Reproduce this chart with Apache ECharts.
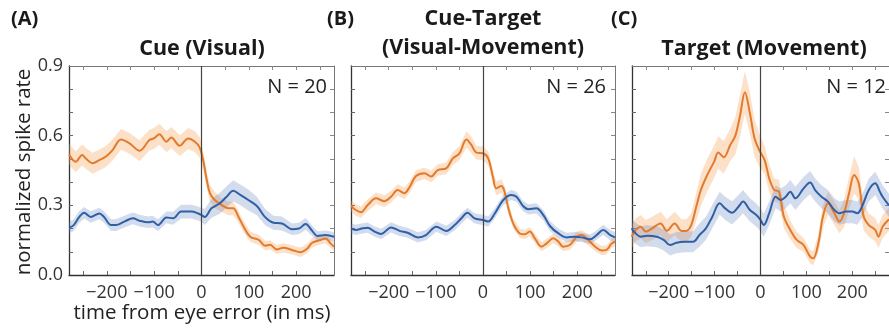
<!DOCTYPE html>
<html><head><meta charset="utf-8">
<script src="https://cdn.jsdelivr.net/npm/echarts@6/dist/echarts.min.js"></script>
<style>html,body{margin:0;padding:0;background:#fff}#c{width:889px;height:332px}</style>
</head><body><div id="c"></div>
<script>
// ---------- data ----------
const panelLetters = ['(A)', '(B)', '(C)'];
const panelTitles = [['Cue (Visual)'], ['Cue-Target', '(Visual-Movement)'], ['Target (Movement)']];
const panelN = ['N = 20', 'N = 26', 'N = 12'];
const yAxisName = 'normalized spike rate';
const xAxisName = 'time from eye error (in ms)';
const xTickLabels = [-200, -100, 0, 100, 200];
const xTicksMinor = [-250, -200, -150, -100, -50, 0, 50, 100, 150, 200, 250];
const yTickLabels = [0, 0.3, 0.6, 0.9];
const yTicksMinor = [0.1, 0.2, 0.3, 0.4, 0.5, 0.6, 0.7, 0.8];

// Panel A – orange
const tA_orange = [-280,-266,-252,-245,-230,-216,-202,-188,-170,-152,-131,-110,-100,-89,-74,-64,-46,-28,-14,-4,4,11,18,28,43,57,67,78,89,103,121,135,145,159,173,191,209,223,234,252,262,273,280];
const vA_orange = [0.52,0.488,0.517,0.503,0.481,0.495,0.51,0.538,0.584,0.567,0.535,0.581,0.589,0.606,0.574,0.592,0.557,0.588,0.574,0.55,0.49,0.41,0.352,0.323,0.301,0.287,0.287,0.251,0.208,0.165,0.151,0.126,0.13,0.11,0.117,0.108,0.098,0.113,0.139,0.151,0.157,0.135,0.122];
const sA_orange = [0.045,0.045,0.045,0.045,0.045,0.045,0.045,0.045,0.045,0.045,0.045,0.045,0.045,0.045,0.045,0.045,0.045,0.045,0.045,0.045,0.04,0.035,0.035,0.035,0.03,0.03,0.03,0.025,0.025,0.022,0.022,0.02,0.02,0.02,0.02,0.02,0.02,0.02,0.02,0.02,0.02,0.02,0.02];
// Panel A – blue
const tA_blue = [-280,-270,-259,-248,-234,-216,-206,-191,-181,-163,-145,-131,-113,-103,-92,-74,-60,-43,-21,-7,0,7,21,39,53,67,82,99,117,135,152,170,191,206,220,234,245,262,280];
const vA_blue = [0.204,0.215,0.248,0.268,0.25,0.265,0.25,0.215,0.215,0.23,0.244,0.234,0.227,0.23,0.215,0.248,0.244,0.273,0.273,0.265,0.258,0.25,0.287,0.309,0.337,0.363,0.345,0.323,0.297,0.248,0.225,0.222,0.197,0.2,0.22,0.19,0.168,0.172,0.165];
const sA_blue = [0.025,0.025,0.025,0.025,0.025,0.025,0.025,0.025,0.025,0.025,0.025,0.025,0.025,0.025,0.025,0.025,0.028,0.03,0.03,0.03,0.03,0.035,0.04,0.045,0.045,0.045,0.045,0.045,0.04,0.035,0.03,0.03,0.025,0.025,0.025,0.022,0.02,0.02,0.02];

// Panel B – orange
const tB_orange = [-280,-270,-259,-245,-227,-209,-195,-181,-167,-156,-142,-124,-110,-96,-78,-64,-50,-35,-25,-14,0,11,21,28,39,46,53,64,78,89,99,110,124,135,149,160,170,184,199,209,223,238,252,262,273,280];
const vB_orange = [0.297,0.28,0.27,0.30,0.33,0.318,0.337,0.366,0.352,0.378,0.426,0.438,0.424,0.452,0.459,0.502,0.524,0.584,0.561,0.527,0.524,0.502,0.423,0.373,0.383,0.357,0.294,0.222,0.179,0.175,0.187,0.158,0.122,0.136,0.158,0.143,0.122,0.129,0.165,0.172,0.151,0.122,0.105,0.108,0.136,0.143];
const sB_orange = [0.025,0.025,0.025,0.025,0.025,0.025,0.025,0.025,0.025,0.025,0.025,0.025,0.025,0.025,0.025,0.028,0.03,0.035,0.035,0.03,0.03,0.03,0.03,0.03,0.03,0.025,0.025,0.022,0.02,0.02,0.02,0.02,0.02,0.02,0.02,0.02,0.02,0.02,0.022,0.022,0.022,0.02,0.02,0.02,0.02,0.02];
// Panel B – blue
const tB_blue = [-280,-270,-255,-245,-230,-216,-195,-177,-160,-138,-121,-99,-78,-60,-46,-33,-18,0,11,25,43,60,71,85,96,113,128,142,160,177,195,209,227,241,255,270,280];
const vB_blue = [0.201,0.194,0.201,0.204,0.187,0.177,0.205,0.19,0.182,0.162,0.172,0.208,0.19,0.215,0.244,0.268,0.244,0.237,0.23,0.265,0.323,0.345,0.337,0.297,0.283,0.287,0.258,0.211,0.179,0.162,0.165,0.162,0.154,0.172,0.194,0.172,0.162];
const sB_blue = [0.022,0.022,0.022,0.022,0.022,0.022,0.022,0.022,0.022,0.022,0.022,0.022,0.022,0.022,0.022,0.022,0.022,0.022,0.022,0.022,0.022,0.022,0.022,0.022,0.022,0.022,0.022,0.022,0.02,0.02,0.02,0.02,0.02,0.02,0.022,0.022,0.022];

// Panel C – orange
const tC_orange = [-281,-272,-261,-250,-236,-218,-204,-187,-172,-162,-151,-140,-130,-116,-101,-92,-80,-66,-55,-45,-34,-23,-13,-2,9,19,30,40,51,65,79,94,108,115,126,136,147,161,172,182,193,204,214,225,236,250,257,266,280];
const vC_orange = [0.165,0.194,0.208,0.187,0.201,0.222,0.19,0.222,0.19,0.19,0.215,0.294,0.366,0.431,0.488,0.527,0.507,0.56,0.599,0.682,0.787,0.696,0.589,0.535,0.495,0.416,0.366,0.36,0.251,0.194,0.151,0.129,0.079,0.072,0.136,0.251,0.309,0.266,0.23,0.266,0.352,0.431,0.395,0.251,0.215,0.194,0.165,0.208,0.24];
const sC_orange = [0.05,0.05,0.05,0.05,0.05,0.05,0.05,0.05,0.05,0.05,0.05,0.06,0.07,0.07,0.07,0.07,0.07,0.07,0.08,0.09,0.09,0.09,0.08,0.07,0.06,0.06,0.05,0.05,0.05,0.04,0.035,0.03,0.03,0.03,0.04,0.05,0.05,0.05,0.05,0.06,0.07,0.08,0.07,0.06,0.05,0.05,0.05,0.05,0.05];
// Panel C – blue
const tC_blue = [-281,-272,-261,-247,-226,-211,-197,-183,-165,-147,-133,-119,-105,-89,-77,-62,-48,-38,-23,-9,0,7,19,33,44,55,65,76,94,108,119,133,147,161,172,186,200,211,221,236,250,260,266,280];
const vC_blue = [0.201,0.179,0.165,0.169,0.165,0.151,0.129,0.139,0.143,0.143,0.172,0.201,0.251,0.309,0.287,0.268,0.294,0.316,0.28,0.258,0.237,0.215,0.266,0.337,0.323,0.337,0.359,0.33,0.373,0.398,0.366,0.337,0.316,0.28,0.266,0.273,0.273,0.266,0.294,0.366,0.395,0.359,0.337,0.30];
const sC_blue = [0.045,0.045,0.045,0.045,0.045,0.045,0.045,0.045,0.045,0.045,0.05,0.05,0.05,0.05,0.05,0.05,0.05,0.05,0.05,0.05,0.05,0.05,0.05,0.05,0.05,0.05,0.05,0.05,0.05,0.05,0.05,0.05,0.05,0.05,0.05,0.05,0.05,0.05,0.05,0.05,0.05,0.05,0.05,0.05];

// ---------- styling / layout ----------
const FONT = '"Open Sans", "Noto Sans", sans-serif';
const ORANGE = '#E37A2C';
const BLUE = '#2F5FA6';
const ORANGE_BAND = 'rgba(245,160,80,0.32)';
const BLUE_BAND = 'rgba(90,125,190,0.27)';
const grids = [
  {left: 69, top: 66, width: 265, height: 209},
  {left: 351, top: 66, width: 264, height: 209},
  {left: 632, top: 66, width: 265, height: 209}
];
const panels = [
  {orange: [tA_orange, vA_orange, sA_orange], blue: [tA_blue, vA_blue, sA_blue]},
  {orange: [tB_orange, vB_orange, sB_orange], blue: [tB_blue, vB_blue, sB_blue]},
  {orange: [tC_orange, vC_orange, sC_orange], blue: [tC_blue, vC_blue, sC_blue]}
];

function bandSeries(ai, t, v, s, fill) {
  const rows = t.map((tt, i) => [tt, v[i] - s[i], v[i] + s[i]]);
  return {
    type: 'custom', xAxisIndex: ai, yAxisIndex: ai, data: rows, silent: true, z: 1,
    encode: {x: 0, y: [1, 2]}, clip: true,
    renderItem(params, api) {
      if (params.dataIndex !== 0) return;
      const up = [], lo = [];
      for (const r of rows) { up.push(api.coord([r[0], r[2]])); lo.push(api.coord([r[0], r[1]])); }
      return {type: 'polygon', shape: {points: up.concat(lo.reverse())}, style: {fill: fill}};
    }
  };
}
function lineSeries(ai, t, v, color, withZero) {
  const s = {
    type: 'line', xAxisIndex: ai, yAxisIndex: ai, data: t.map((tt, i) => [tt, v[i]]),
    showSymbol: false, smooth: 0.35, z: 3, silent: true, clip: true,
    lineStyle: {color: color, width: 2}
  };
  if (withZero) {
    s.markLine = {silent: true, symbol: 'none', label: {show: false}, animation: false,
      lineStyle: {color: '#444', width: 1.2, type: 'solid'}, data: [{xAxis: 0}]};
  }
  return s;
}
const fmtTick = v => (v < 0 ? '\u2212' + Math.abs(v) : String(v));

const xAxes = [], yAxes = [], series = [];
grids.forEach((g, i) => {
  xAxes.push({type: 'value', gridIndex: i, min: -280, max: 280, position: 'bottom',
    axisLine: {show: true, onZero: false, lineStyle: {color: '#333', width: 1.3}},
    axisTick: {show: true, inside: true, length: 4, customValues: xTicksMinor, lineStyle: {color: '#666'}},
    axisLabel: {show: true, customValues: xTickLabels, margin: 9, fontSize: 18, color: '#333', fontFamily: FONT, formatter: fmtTick},
    splitLine: {show: false}});
  yAxes.push({type: 'value', gridIndex: i, min: 0, max: 0.9, position: 'left',
    axisLine: {show: true, onZero: false, lineStyle: {color: '#333', width: 1.3}},
    axisTick: {show: true, inside: true, length: 4, customValues: yTicksMinor, lineStyle: {color: '#666'}},
    axisLabel: {show: i === 0, customValues: yTickLabels, margin: 6, fontSize: 18, color: '#333', fontFamily: FONT,
      formatter: v => v.toFixed(1)},
    splitLine: {show: false}});
});
grids.forEach((g, i) => {
  xAxes.push({type: 'value', gridIndex: i, min: -280, max: 280, position: 'top',
    axisLine: {show: true, onZero: false, lineStyle: {color: '#777', width: 1}},
    axisTick: {show: true, inside: true, length: 4, customValues: xTicksMinor, lineStyle: {color: '#888'}},
    axisLabel: {show: false}, splitLine: {show: false}});
  yAxes.push({type: 'value', gridIndex: i, min: 0, max: 0.9, position: 'right',
    axisLine: {show: true, onZero: false, lineStyle: {color: '#777', width: 1}},
    axisTick: {show: true, inside: true, length: 4, customValues: yTicksMinor, lineStyle: {color: '#888'}},
    axisLabel: {show: false}, splitLine: {show: false}});
});
panels.forEach((p, i) => {
  series.push(bandSeries(i, p.orange[0], p.orange[1], p.orange[2], ORANGE_BAND));
  series.push(bandSeries(i, p.blue[0], p.blue[1], p.blue[2], BLUE_BAND));
  series.push(lineSeries(i, p.orange[0], p.orange[1], ORANGE, true));
  series.push(lineSeries(i, p.blue[0], p.blue[1], BLUE, false));
});

const graphics = [];
const letterX = [11, 327, 611];
panelLetters.forEach((L, i) => graphics.push({type: 'text', left: letterX[i], top: 9,
  style: {text: L, font: 'bold 20px ' + FONT, fill: '#1a1a1a'}}));
const titleCx = [202, 483, 764];
const TFONT = 'bold 21.5px ' + FONT;
panelTitles.forEach((lines, i) => {
  if (lines.length === 1) {
    graphics.push({type: 'text', x: titleCx[i], y: 49, style: {text: lines[0], font: TFONT, fill: '#1a1a1a', textAlign: 'center', textVerticalAlign: 'middle'}});
  } else {
    graphics.push({type: 'text', x: titleCx[i], y: 19, style: {text: lines[0], font: TFONT, fill: '#1a1a1a', textAlign: 'center', textVerticalAlign: 'middle'}});
    graphics.push({type: 'text', x: titleCx[i], y: 48, style: {text: lines[1], font: TFONT, fill: '#1a1a1a', textAlign: 'center', textVerticalAlign: 'middle'}});
  }
});
const nRight = [327, 606, 886];
panelN.forEach((n, i) => graphics.push({type: 'text', x: nRight[i], y: 87,
  style: {text: n, font: '20px ' + FONT, fill: '#222', textAlign: 'right', textVerticalAlign: 'middle'}}));
graphics.push({type: 'text', x: 24, y: 172, rotation: Math.PI / 2,
  style: {text: yAxisName, font: '20.5px ' + FONT, fill: '#222', textAlign: 'center', textVerticalAlign: 'middle'}});
graphics.push({type: 'text', x: 202, y: 313,
  style: {text: xAxisName, font: '20.5px ' + FONT, fill: '#222', textAlign: 'center', textVerticalAlign: 'middle'}});

const chart = echarts.init(document.getElementById('c'), null, {renderer: 'canvas'});
chart.setOption({
  animation: false, backgroundColor: '#fff',
  grid: grids.map(g => Object.assign({show: false, containLabel: false}, g)),
  xAxis: xAxes, yAxis: yAxes, series: series, graphic: graphics
});
</script></body></html>
